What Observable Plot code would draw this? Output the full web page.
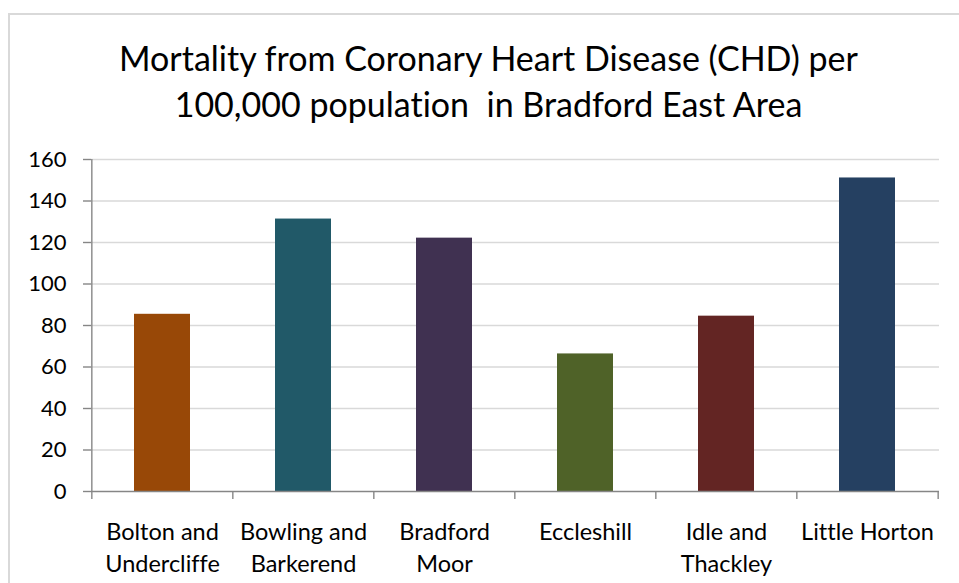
<!DOCTYPE html>
<html>
<head>
<meta charset="utf-8">
<script src="https://cdn.jsdelivr.net/npm/d3@7"></script>
<script src="https://cdn.jsdelivr.net/npm/@observablehq/plot@0.6"></script>
<style>
  html, body { margin: 0; padding: 0; background: #fff; }
  #chart {
    position: relative; width: 959px; height: 583px; overflow: hidden;
    font-family: Lato, "Open Sans", sans-serif; color: #000;
    font-variant-ligatures: none; font-feature-settings: "liga" 0, "clig" 0;
  }
  #chart svg text { font-variant-ligatures: none; font-feature-settings: "liga" 0, "clig" 0; }
  #frame {
    position: absolute; left: 8px; top: 13px; width: 1200px; height: 900px;
    border-left: 2px solid #d9d9d9; border-top: 2px solid #d9d9d9;
    box-sizing: border-box;
  }
  #title {
    position: absolute; left: 0; width: 977px; top: 35px;
    text-align: center; font-size: 34px; line-height: 45.5px; white-space: pre;
  }
  #plot { position: absolute; left: 0; top: 0; }
</style>
</head>
<body>
<div id="chart">
  <div id="frame"></div>
  <div id="plot"></div>
  <div id="title">Mortality from Coronary Heart Disease (CHD) per
100,000 population  in Bradford East Area</div>
</div>
<script>
// Wards of the Bradford East area and CHD mortality per 100,000 population
const wards = [
  "Bolton and Undercliffe",
  "Bowling and Barkerend",
  "Bradford Moor",
  "Eccleshill",
  "Idle and Thackley",
  "Little Horton"
];
const wardLabels = [
  "Bolton and\nUndercliffe",
  "Bowling and\nBarkerend",
  "Bradford\nMoor",
  "Eccleshill",
  "Idle and\nThackley",
  "Little Horton"
];
const mortality = [85.4, 131.3, 122.1, 66.3, 84.5, 151.1];
const barColors = ["#984807", "#215968", "#403151", "#4f6228", "#632523", "#254061"];
const yTicks = [0, 20, 40, 60, 80, 100, 120, 140, 160];

const rows = wards.map((w, i) => ({ward: w, value: mortality[i], color: barColors[i]}));
const labelOf = new Map(wards.map((w, i) => [w, wardLabels[i]]));

const W = 959, H = 583;
const margin = {top: 159, right: 20, bottom: 92, left: 91};
const step = (W - margin.left - margin.right) / wards.length;
const axisGray = "#868686";

const chart = Plot.plot({
  width: W,
  height: H,
  marginTop: margin.top,
  marginRight: margin.right,
  marginBottom: margin.bottom,
  marginLeft: margin.left,
  style: {fontFamily: "Lato, 'Open Sans', sans-serif", background: "transparent", color: "#000"},
  x: {domain: wards, paddingInner: 0.6, paddingOuter: 0.3},
  y: {domain: [0, 160]},
  marks: [
    // horizontal gridlines
    Plot.ruleY(yTicks.filter(t => t > 0), {stroke: "#d9d9d9", strokeWidth: 1.4}),
    // bars
    Plot.barY(rows, {x: "ward", y: "value", fill: "color"}),
    // y axis line and ticks
    Plot.ruleX([wards[0]], {x: d => d, dx: -step / 2, y1: 0, y2: 160, stroke: axisGray, strokeWidth: 1.4}),
    Plot.axisY({ticks: yTicks, tickSize: 8, tickPadding: 17, stroke: axisGray, strokeWidth: 1.4, fontSize: 22, label: null, color: "#000"}),
    // x axis baseline
    Plot.ruleY([0], {stroke: axisGray, strokeWidth: 1.4}),
    // category boundary ticks below the baseline
    Plot.ruleX(wards, {x: d => d, dx: -step / 2, y1: 0, y2: 0, insetBottom: -8, stroke: axisGray, strokeWidth: 1.4}),
    Plot.ruleX([wards[wards.length - 1]], {x: d => d, dx: step / 2, y1: 0, y2: 0, insetBottom: -8, stroke: axisGray, strokeWidth: 1.4}),
    Plot.axisX({tickSize: 0, tickPadding: 25, fontSize: 23.5, lineHeight: 1.38, tickFormat: d => labelOf.get(d), label: null, color: "#000"})
  ]
});
document.getElementById("plot").appendChild(chart);
</script>
</body>
</html>
